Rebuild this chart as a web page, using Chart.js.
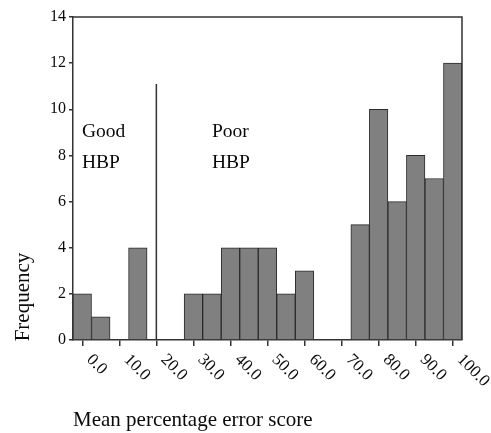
<!DOCTYPE html>
<html>
<head>
<meta charset="utf-8">
<script src="https://cdn.jsdelivr.net/npm/chart.js@4"></script>
<style>
  html, body { margin: 0; padding: 0; background: #fff; }
  #wrap { width: 491px; height: 433px; }
</style>
</head>
<body>
<div id="wrap"><canvas id="chart" width="491" height="433"></canvas></div>
<script>
// bin centres (mean percentage error score) and counts
const binCentres = [0, 5, 10, 15, 20, 25, 30, 35, 40, 45, 50, 55, 60, 65, 70, 75, 80, 85, 90, 95, 100];
const frequencies = [2, 1, 0, 4, 0, 0, 2, 2, 4, 4, 4, 2, 3, 0, 0, 5, 10, 6, 8, 7, 12];
const xTickValues = [0, 10, 20, 30, 40, 50, 60, 70, 80, 90, 100];
const xTickLabels = ['0.0', '10.0', '20.0', '30.0', '40.0', '50.0', '60.0', '70.0', '80.0', '90.0', '100.0'];
const yTickValues = [0, 2, 4, 6, 8, 10, 12, 14];
const cutOff = 20;        // Good / Poor divider
const cutOffHeight = 11.1;

const SERIF = '"Liberation Serif", "DejaVu Serif", serif';
const INK = '#0a0a0a';

// frame, divider line and free text
const decorations = {
    id: 'decorations',
    afterDraw(chart) {
        const { ctx, chartArea: a, scales: { x, y } } = chart;
        ctx.save();
        ctx.strokeStyle = '#333';
        ctx.lineWidth = 1.5;
        ctx.beginPath();
        ctx.moveTo(a.left, a.top);
        ctx.lineTo(a.right, a.top);
        ctx.lineTo(a.right, a.bottom);
        ctx.stroke();

        // divider
        const dx = x.getPixelForValue(cutOff);
        ctx.beginPath();
        ctx.moveTo(dx, y.getPixelForValue(0));
        ctx.lineTo(dx, y.getPixelForValue(cutOffHeight));
        ctx.stroke();

        ctx.fillStyle = INK;
        ctx.font = '19.5px ' + SERIF;
        ctx.textAlign = 'left';
        ctx.textBaseline = 'alphabetic';
        ctx.fillText('Good', 82, 137);
        ctx.fillText('HBP', 82, 168);
        ctx.fillText('Poor', 212, 137);
        ctx.fillText('HBP', 212, 168);

        // rotated x tick labels
        ctx.font = '17px ' + SERIF;
        xTickValues.forEach((v, i) => {
            ctx.save();
            ctx.translate(x.getPixelForValue(v) + 13, a.bottom + 11);
            ctx.rotate(Math.PI / 4);
            ctx.textBaseline = 'top';
            ctx.fillText(xTickLabels[i], 0, 0);
            ctx.restore();
        });

        ctx.font = '21px ' + SERIF;
        ctx.fillText('Mean percentage error score', 73, 426);

        ctx.save();
        ctx.translate(29, 297);
        ctx.rotate(-Math.PI / 2);
        ctx.textAlign = 'center';
        ctx.fillText('Frequency', 0, 0);
        ctx.restore();
        ctx.restore();
    }
};

new Chart(document.getElementById('chart'), {
    type: 'bar',
    data: {
        datasets: [{
            data: binCentres.map((c, i) => ({ x: c, y: frequencies[i] || null })),
            backgroundColor: '#808080',
            borderColor: '#2a2a2a',
            borderWidth: 1,
            barPercentage: 1,
            categoryPercentage: 1
        }]
    },
    options: {
        responsive: false,
        animation: false,
        layout: { padding: { left: 0, right: 29, top: 17, bottom: 0 } },
        plugins: { legend: { display: false }, tooltip: { enabled: false } },
        scales: {
            x: {
                type: 'linear',
                offset: false,
                min: -2.5,
                max: 102.5,
                afterBuildTicks: s => { s.ticks = xTickValues.map(v => ({ value: v })); },
                afterFit: s => { s.height = 93; },
                ticks: { display: false },
                grid: { drawOnChartArea: false, offset: false, tickLength: 6, color: '#333', lineWidth: 1.5 },
                border: { color: '#333', width: 1.5 }
            },
            y: {
                min: 0,
                max: 14,
                afterBuildTicks: s => { s.ticks = yTickValues.map(v => ({ value: v })); },
                afterFit: s => { s.width = 73; },
                ticks: { color: INK, font: { family: SERIF, size: 16 }, padding: 3 },
                grid: { drawOnChartArea: false, tickLength: 4, color: '#333', lineWidth: 1.5 },
                border: { color: '#333', width: 1.5 }
            }
        }
    },
    plugins: [decorations]
});
</script>
</body>
</html>
